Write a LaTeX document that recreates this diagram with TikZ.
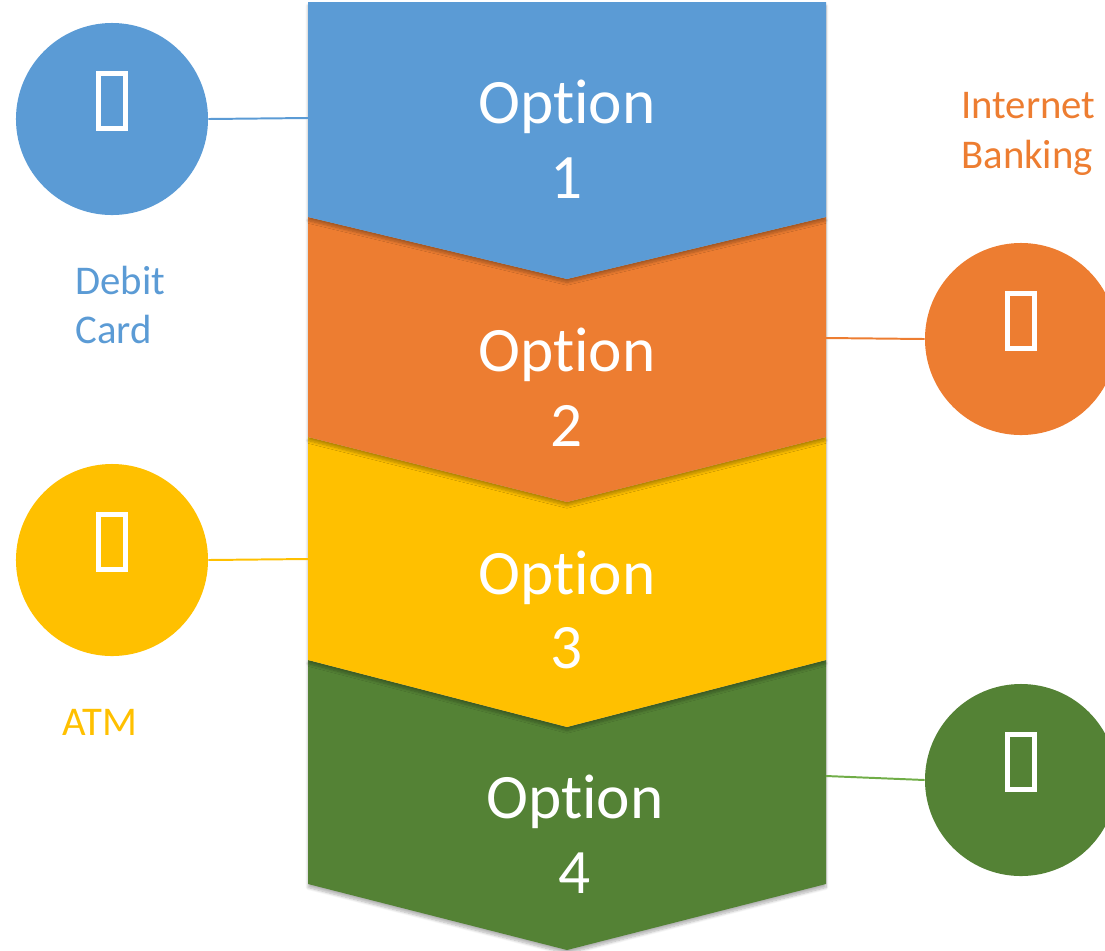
\documentclass[tikz,border=0pt]{standalone}
\usepackage{fontspec}
\setmainfont{Carlito}[Ligatures=NoCommon]
\usetikzlibrary{positioning, shadows.blur}

\definecolor{optblue}{HTML}{5B9BD5}
\definecolor{optorange}{HTML}{ED7D31}
\definecolor{optyellow}{HTML}{FFC000}
\definecolor{optgreen}{HTML}{548235}
\definecolor{linkgreen}{HTML}{70AD47}

\begin{document}
\begin{tikzpicture}[
    x=0.025cm, y=-0.025cm,
    chevron/.style={blur shadow={shadow xshift=0pt, shadow yshift=-2.5pt, shadow blur steps=8, shadow opacity=30}},
    optlabel/.style={text=white, align=center, inner sep=0pt, font=\fontsize{45}{53}\selectfont},
    bubble/.style={circle, minimum size=4.8cm, inner sep=0pt},
    glyph/.style={draw=white, line width=3.5pt, minimum width=0.68cm, minimum height=1.38cm, inner sep=0pt},
    side/.style={align=left, inner sep=0pt, anchor=west, font=\fontsize{29}{35.5}\selectfont},
    link/.style={line width=1.4pt}
  ]
  \useasboundingbox (0,0) rectangle (1105,950);

  % Chevrons, bottom one first so each shadow falls on the next
  \path[chevron, fill=optgreen] (308,660) -- (567,727) -- (826,660) -- (826,884) -- (567,950) -- (308,884) -- cycle;
  \path[chevron, fill=optyellow] (308,437) -- (567,502) -- (826,437) -- (826,660) -- (567,727) -- (308,660) -- cycle;
  \path[chevron, fill=optorange] (308,217) -- (567,279) -- (826,217) -- (826,437) -- (567,502) -- (308,437) -- cycle;
  \path[chevron, fill=optblue] (308,2) -- (826,2) -- (826,217) -- (567,279) -- (308,217) -- cycle;

  % Option texts
  \node[optlabel] (opt1) at (567,139) {Option\\1};
  \node[optlabel] (opt2) at (567,387) {Option\\2};
  \node[optlabel] (opt3) at (567,610) {Option\\3};
  \node[optlabel] (opt4) at (575,834) {Option\\4};

  % Chevron edge points for the links
  \coordinate (edge1) at (308,118);
  \coordinate (edge2) at (826,338);
  \coordinate (edge3) at (308,559);
  \coordinate (edge4) at (826,776);

  % Circles
  \node[bubble, fill=optblue] (debit) at (112,119) {};
  \node[bubble, fill=optorange] (netbank) at (1021,339) {};
  \node[bubble, fill=optyellow] (atm) at (112,560) {};
  \node[bubble, fill=optgreen] (fourth) at (1021,780) {};

  % Icon boxes
  \foreach \n in {debit, netbank, atm, fourth} {
    \node[glyph] (\n icon) at ([yshift=0.45cm]\n.center) {};
  }

  % Links
  \draw[link, optblue] (debit.east) -- (edge1);
  \draw[link, optorange] (edge2) -- (netbank.west);
  \draw[link, optyellow] (atm.east) -- (edge3);
  \draw[link, linkgreen] (edge4) -- (fourth.west);

  % Side labels
  \node[side, text=optblue] (debit text) at (75,305) {Debit\\Card};
  \node[side, text=optorange] (netbank text) at (961,134) {Internet\\Banking};
  \node[side, text=optyellow] (atm text) at (62,722) {ATM};
\end{tikzpicture}
\end{document}
